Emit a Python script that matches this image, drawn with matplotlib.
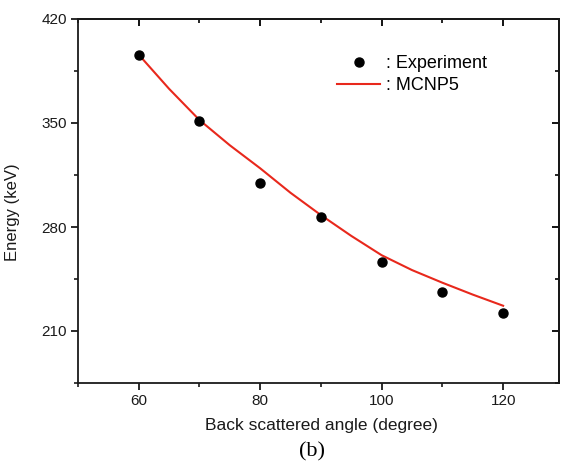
import matplotlib
matplotlib.use("Agg")
import matplotlib.pyplot as plt
from matplotlib.lines import Line2D
from matplotlib.ticker import MultipleLocator

# Data
exp_angle = [60, 70, 80, 90, 100, 110, 120]
exp_energy = [395.8, 351.4, 309.8, 287.0, 256.7, 236.5, 222.4]

mcnp_angle = [60, 65, 70, 75, 80, 85, 90, 95, 100, 105, 110, 115, 120]
mcnp_energy = [396, 373, 352, 335, 319.5, 303, 288, 274, 261, 251, 242.5, 234.5, 227]

x_ticks = [60, 80, 100, 120]
y_ticks = [210, 280, 350, 420]

W, H = 562, 465
plt.rcParams['font.family'] = ['Liberation Sans', 'DejaVu Sans']
fig = plt.figure(figsize=(W / 100, H / 100), dpi=100)
L, R, T, B = 78, 559, 19, 383
ax = fig.add_axes([L / W, 1 - B / H, (R - L) / W, (B - T) / H])

red = '#e8281c'
ax.plot(mcnp_angle, mcnp_energy, color=red, lw=1.5, zorder=2)
ax.plot(exp_angle, exp_energy, 'o', color='black', ms=6.5, zorder=3)

ax.set_xlim(50, 129.2)
ax.set_ylim(175, 420)
ax.set_xticks(x_ticks)
ax.set_yticks(y_ticks)
ax.xaxis.set_minor_locator(MultipleLocator(10))
ax.yaxis.set_minor_locator(MultipleLocator(35))

for s in ax.spines.values():
    s.set_linewidth(1.3)
    s.set_color('#1a1a1a')

ax.tick_params(axis='both', which='major', direction='out', length=5, width=1.3,
               labelsize=11, pad=3, colors='#1a1a1a')
ax.tick_params(axis='both', which='minor', direction='out', length=3, width=1.2,
               colors='#1a1a1a')
# top/right inward ticks via secondary axes
axt = ax.secondary_xaxis('top')
axt.set_xticks(x_ticks)
axt.tick_params(direction='in', length=5, width=1.3, labeltop=False)
axt.xaxis.set_minor_locator(MultipleLocator(10))
axt.tick_params(which='minor', direction='in', length=3, width=1.2)
axr = ax.secondary_yaxis('right')
axr.set_yticks(y_ticks)
axr.tick_params(direction='in', length=5, width=1.3, labelright=False)
axr.yaxis.set_minor_locator(MultipleLocator(35))
axr.tick_params(which='minor', direction='in', length=3, width=1.2)
for sec in (axt, axr):
    for s in sec.spines.values():
        s.set_linewidth(1.3)

ax.set_xlabel('Back scattered angle (degree)', fontsize=12.5, color='#1a1a1a')
ax.set_ylabel('Energy (keV)', fontsize=12, color='#1a1a1a')
ax.xaxis.set_label_coords((321 - L) / (R - L), -(418 - B) / (B - T))
ax.yaxis.set_label_coords(-(L - 20.5) / (R - L), (B - 212) / (B - T))

handles = [Line2D([], [], marker='o', ls='none', color='black', ms=6.5),
           Line2D([], [], color=red, lw=1.5)]
leg = fig.legend(handles, [': Experiment', ': MCNP5'], loc='upper left',
                 bbox_to_anchor=(337 / W, 1 - 55 / H), bbox_transform=fig.transFigure,
                 frameon=False, fontsize=13, handlelength=2.4, handletextpad=0.3,
                 labelspacing=0.3, borderpad=0, borderaxespad=0)

fig.text(312 / W, 1 - 452 / H, '(b)', ha='center', va='center', fontsize=16,
         family=['Liberation Serif', 'DejaVu Serif'])

fig.savefig('out.png', dpi=100)
